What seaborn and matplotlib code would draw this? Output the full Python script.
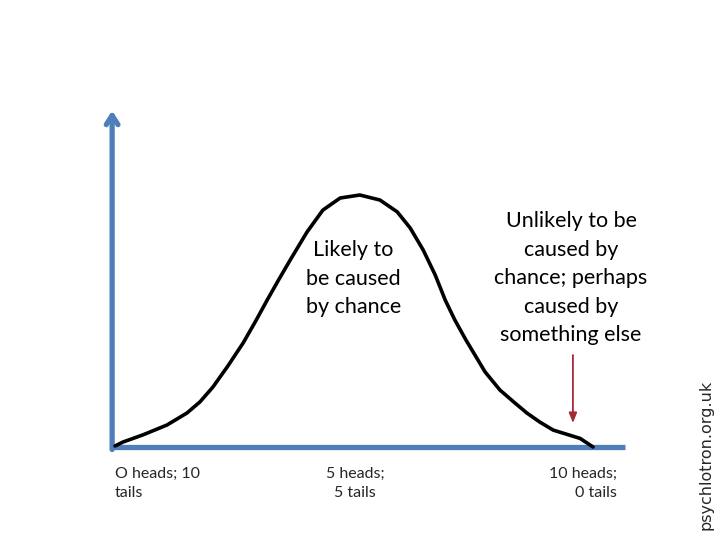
import numpy as np
import pandas as pd
import matplotlib
matplotlib.use("Agg")
import matplotlib.pyplot as plt
import seaborn as sns

# number of heads out of 10 vs. relative likelihood (hand drawn curve)
heads = [0.00, 0.17, 0.58, 1.08, 1.50, 1.77, 2.04, 2.35, 2.67, 2.92, 3.17, 3.42, 3.65,
         4.00, 4.33, 4.69, 5.10, 5.52, 5.88, 6.15, 6.42, 6.67, 6.88, 7.08, 7.31, 7.71,
         8.02, 8.33, 8.58, 8.85, 9.13, 9.42, 9.69, 9.96]
likelihood = [0.004, 0.020, 0.048, 0.087, 0.135, 0.179, 0.238, 0.321, 0.413, 0.496, 0.583, 0.667, 0.742,
              0.853, 0.940, 0.988, 1.000, 0.980, 0.933, 0.869, 0.782, 0.683, 0.583, 0.504, 0.425, 0.298,
              0.226, 0.175, 0.135, 0.099, 0.067, 0.050, 0.034, 0.000]

outcome_labels = ["O heads; 10\ntails", "5 heads;\n5 tails", "10 heads;\n0 tails"]
region_labels = ["Likely to\nbe caused\nby chance",
                 "Unlikely to be\ncaused by\nchance; perhaps\ncaused by\nsomething else"]
credit = "psychlotron.org.uk"

df = pd.DataFrame({"heads": heads, "likelihood": likelihood})

sns.set_theme(style="white")
plt.rcParams["font.family"] = ["Lato", "DejaVu Sans"]

fig = plt.figure(figsize=(7.2, 5.4), dpi=100)
ax = fig.add_axes([0, 0, 1, 1])
# 48 px per head, 252 px per unit likelihood; baseline at 447 px from top
ax.set_xlim(-115 / 48, 605 / 48)
ax.set_ylim(-93 / 252, 447 / 252)
ax.axis("off")

blue = "#4F7FB8"
# x axis
ax.plot([-0.10, 10.63], [0, 0], color=blue, lw=3.8, solid_capstyle="butt", zorder=1)
# y axis with arrow
ax.annotate("", xy=(-0.06, 1.335), xytext=(-0.06, -0.01),
            arrowprops=dict(arrowstyle="->,head_length=0.55,head_width=0.35",
                            color=blue, lw=3.8, shrinkA=0, shrinkB=0), zorder=1)

sns.lineplot(data=df, x="heads", y="likelihood", ax=ax, color="black",
             lw=2.6, sort=False, zorder=3, solid_joinstyle="round", solid_capstyle="round")
ax.set_xlabel("")
ax.set_ylabel("")

# red arrow pointing at the tail
ax.annotate("", xy=(9.54, 0.095), xytext=(9.54, 0.365),
            arrowprops=dict(arrowstyle="-|>,head_length=0.5,head_width=0.2",
                            color="#A52A35", lw=1.3, shrinkA=0, shrinkB=0))

ax.text(4.97, 0.82, region_labels[0], ha="center", va="top", fontsize=15.5,
        linespacing=1.52, color="black")
ax.text(9.5, 0.935, region_labels[1], ha="center", va="top", fontsize=15.5,
        linespacing=1.53, color="black")

ax.text(0.0, -0.077, outcome_labels[0], ha="left", va="top", fontsize=11.5, linespacing=1.5)
ax.text(5.0, -0.077, outcome_labels[1], ha="center", va="top", fontsize=11.5, linespacing=1.5,
        multialignment="center")
ax.text(10.45, -0.077, outcome_labels[2], ha="right", va="top", fontsize=11.5, linespacing=1.5,
        multialignment="right")

fig.text(706 / 720, 1 - 455 / 540, credit, rotation=90, ha="center", va="center",
         fontsize=11.5, family=["DejaVu Sans"])

fig.savefig("out.png", dpi=100)
